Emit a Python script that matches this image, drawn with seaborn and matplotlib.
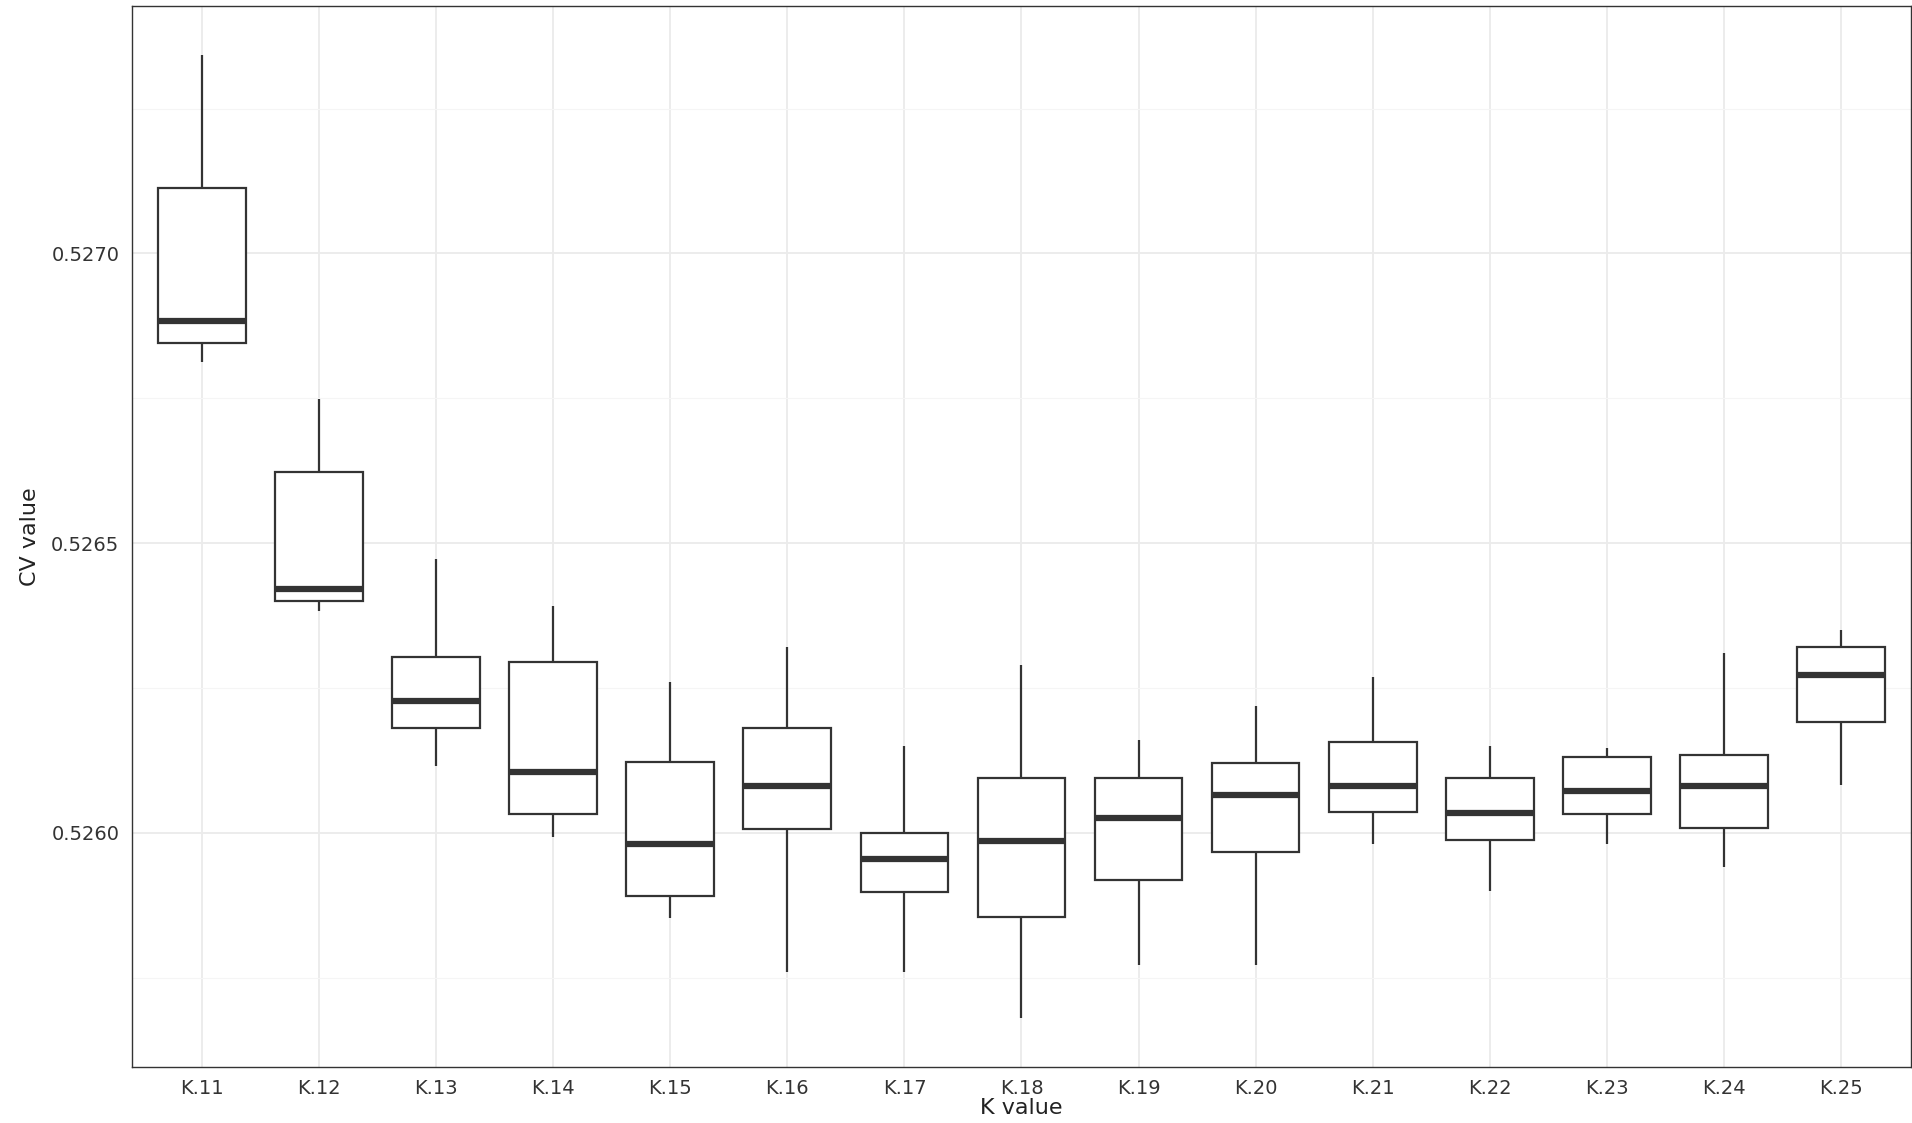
import pandas as pd
import matplotlib
matplotlib.use("Agg")
import matplotlib.pyplot as plt
import seaborn as sns
from matplotlib.ticker import FixedLocator, FormatStrFormatter

# Box statistics: lower whisker, Q1, median, Q3, upper whisker
k_labels = ["K.11", "K.12", "K.13", "K.14", "K.15", "K.16", "K.17", "K.18",
            "K.19", "K.20", "K.21", "K.22", "K.23", "K.24", "K.25"]
whisker_low = [0.526813, 0.526383, 0.526116, 0.525992, 0.525853, 0.525760, 0.525760, 0.525680,
               0.525771, 0.525771, 0.525981, 0.525899, 0.525981, 0.525941, 0.526082]
q1 = [0.526846, 0.526400, 0.526181, 0.526032, 0.525891, 0.526006, 0.525897, 0.525855,
      0.525918, 0.525966, 0.526036, 0.525987, 0.526032, 0.526008, 0.526192]
median = [0.526884, 0.526421, 0.526227, 0.526105, 0.525981, 0.526080, 0.525954, 0.525985,
          0.526025, 0.526065, 0.526080, 0.526034, 0.526072, 0.526080, 0.526272]
q3 = [0.527112, 0.526623, 0.526303, 0.526295, 0.526122, 0.526181, 0.526000, 0.526095,
      0.526095, 0.526120, 0.526156, 0.526095, 0.526131, 0.526135, 0.526320]
whisker_high = [0.527343, 0.526749, 0.526472, 0.526392, 0.526261, 0.526320, 0.526149, 0.526290,
                0.526160, 0.526219, 0.526269, 0.526149, 0.526147, 0.526310, 0.526350]

rows = []
for i, k in enumerate(k_labels):
    for v in (whisker_low[i], q1[i], median[i], q3[i], whisker_high[i]):
        rows.append({"K value": k, "CV value": v})
df = pd.DataFrame(rows)

sns.set_theme(style="whitegrid")
plt.rcParams["font.family"] = ["DejaVu Sans"]

fig = plt.figure(figsize=(19.12, 11.23), dpi=100)
ax = fig.add_axes([0.069, 0.05, 0.9305, 0.9447])

sns.boxplot(data=df, x="K value", y="CV value", order=k_labels, whis=(0, 100),
            width=0.75, color="white", linecolor="#333333", linewidth=1.6,
            fill=True, medianprops={"linewidth": 4.5, "color": "#333333"},
            showcaps=False, ax=ax)

ax.set_xlim(-0.6, len(k_labels) - 0.4)
ax.set_ylim(0.525596, 0.527427)
ax.yaxis.set_major_locator(FixedLocator([0.5260, 0.5265, 0.5270]))
ax.yaxis.set_minor_locator(FixedLocator([0.52575, 0.52625, 0.52675, 0.52725]))
ax.yaxis.set_major_formatter(FormatStrFormatter("%.4f"))

ax.grid(True, which="major", color="#ebebeb", linewidth=1.3)
ax.grid(True, which="minor", axis="y", color="#f5f5f5", linewidth=0.8)
ax.set_axisbelow(True)
for s in ax.spines.values():
    s.set_color("#333333")
    s.set_linewidth(1.0)
    s.set_visible(True)

ax.tick_params(axis="both", which="major", length=5, width=1.2, color="#333333",
               labelsize=14, labelcolor="#333333", direction="out", pad=4)
ax.tick_params(axis="y", which="minor", length=0)
ax.set_xlabel("K value", fontsize=16, color="#222222", labelpad=0)
ax.set_ylabel("CV value", fontsize=16, color="#222222", labelpad=8)

plt.savefig("out.png", dpi=100)
plt.close()
